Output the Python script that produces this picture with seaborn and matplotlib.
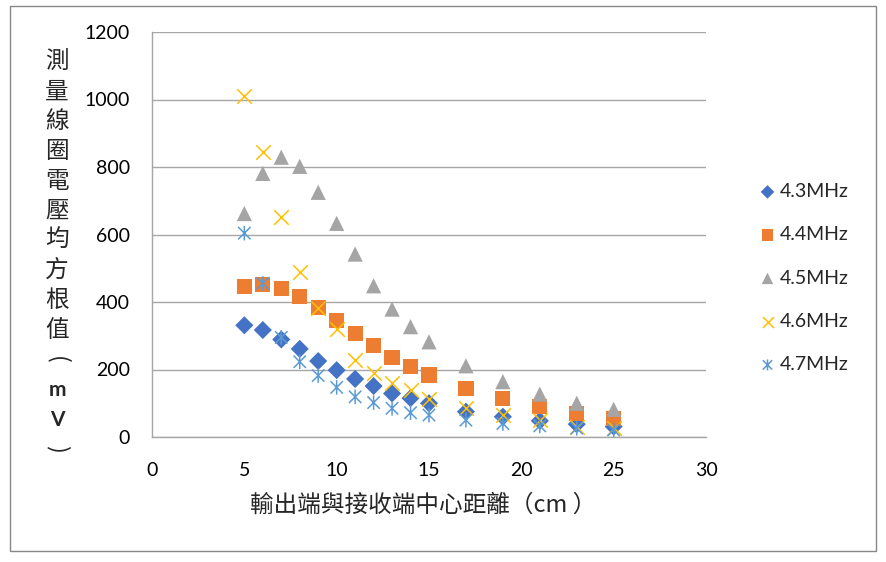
import matplotlib
matplotlib.use("Agg")
import matplotlib.pyplot as plt
from matplotlib.path import Path
from matplotlib.patches import Rectangle
import seaborn as sns
import pandas as pd

distance = [5, 6, 7, 8, 9, 10, 11, 12, 13, 14, 15, 17, 19, 21, 23, 25]
v43 = [331, 317, 289, 261, 225, 198, 172, 151, 129, 115, 100, 75, 60, 48, 38, 31]
v44 = [445, 452, 440, 416, 383, 345, 306, 271, 235, 208, 184, 143, 114, 90, 69, 55]
v45 = [662, 781, 829, 802, 725, 633, 542, 448, 379, 327, 282, 211, 164, 127, 100, 82]
v46 = [1010, 843, 651, 488, 383, 320, 228, 191, 159, 139, 112, 85, 64, 50, 31, 27]
v47 = [604, 455, 295, 223, 182, 147, 119, 102, 85, 72, 65, 50, 40, 33, 26, 21]
series_names = ["4.3MHz", "4.4MHz", "4.5MHz", "4.6MHz", "4.7MHz"]
series_values = [v43, v44, v45, v46, v47]
x_ticks = [0, 5, 10, 15, 20, 25, 30]
y_ticks = [0, 200, 400, 600, 800, 1000, 1200]
x_label = "輸出端與接收端中心距離（cm ）"
y_label_chars = ["測", "量", "線", "圈", "電", "壓", "均", "方", "根", "值", "(", "m", "V", ")"]

colors = ["#4472C4", "#ED7D31", "#A5A5A5", "#FFC000", "#5B9BD5"]

star = Path([(0, -1), (0, 1), (-0.85, -0.85), (0.85, 0.85), (-0.85, 0.85), (0.85, -0.85)],
            [Path.MOVETO, Path.LINETO, Path.MOVETO, Path.LINETO, Path.MOVETO, Path.LINETO])

marker_specs = [
    dict(marker="D", s=85, color=colors[0], edgecolor="none"),
    dict(marker="s", s=120, color=colors[1], edgecolor="none"),
    dict(marker="^", s=120, color=colors[2], edgecolor="none"),
    dict(marker="x", s=110, color=colors[3], linewidth=1.1),
    dict(marker=star, s=110, color=colors[4], edgecolor=colors[4], facecolor="none", linewidth=1.1),
]

rows = []
for name, vals in zip(series_names, series_values):
    for d, v in zip(distance, vals):
        rows.append({"distance": d, "value": v, "series": name})
df = pd.DataFrame(rows)

sns.set_theme(style="white")
plt.rcParams["font.family"] = ["Lato", "Noto Sans CJK TC", "DejaVu Sans"]

fig = plt.figure(figsize=(8.86, 5.62), dpi=100)
ax = fig.add_axes([152 / 886, 1 - 437 / 562, (706 - 152) / 886, (437 - 32) / 562])

for name, spec in zip(series_names, marker_specs):
    sub = df[df["series"] == name]
    sns.scatterplot(data=sub, x="distance", y="value", ax=ax, label=name, zorder=3, **spec)

ax.set_xlim(0, 30)
ax.set_ylim(0, 1200)
ax.set_xticks(x_ticks)
ax.set_yticks(y_ticks)
ax.set_xlabel("")
ax.set_ylabel("")
ax.grid(axis="y", color="#A6A6A6", linewidth=1.0)
ax.grid(axis="x", visible=False)
for side in ["top", "right"]:
    ax.spines[side].set_visible(False)
for side in ["left", "bottom"]:
    ax.spines[side].set_visible(True)
    ax.spines[side].set_color("#A6A6A6")
    ax.spines[side].set_linewidth(1.0)
ax.tick_params(axis="both", which="major", direction="out", length=6, width=1,
               color="#A6A6A6", labelsize=14, labelcolor="#000000")
ax.tick_params(axis="y", pad=10)
ax.tick_params(axis="x", pad=12)

# vertical stacked y-axis title
for i, ch in enumerate(y_label_chars):
    ypix = 62 + i * 29.8
    if ch in "()":
        fig.text(57 / 886, 1 - ypix / 562, ch, ha="center", va="center", fontsize=17,
                 rotation=-90, family=["Noto Sans CJK TC", "DejaVu Sans"])
    elif ch in "mV":
        fig.text(57 / 886, 1 - ypix / 562, ch, ha="center", va="center", fontsize=15,
                 fontweight="bold", family=["Lato", "DejaVu Sans"])
    else:
        fig.text(57 / 886, 1 - ypix / 562, ch, ha="center", va="center", fontsize=17,
                 family=["Noto Sans CJK TC", "DejaVu Sans"])

fig.text(423 / 886, 1 - 505 / 562, x_label, ha="center", va="center",
         fontsize=17, family=["Noto Sans CJK TC", "DejaVu Sans"])

leg = ax.legend(loc="center left", bbox_to_anchor=(750 / 886, 1 - 278 / 562),
                bbox_transform=fig.transFigure, frameon=False, fontsize=14,
                labelspacing=1.35, handletextpad=0.15, handlelength=1.0,
                borderaxespad=0, markerscale=0.75)

fig.patches.append(Rectangle((10 / 886, 1 - 551 / 562), 866 / 886, 545 / 562,
                             transform=fig.transFigure, fill=False,
                             edgecolor="#878787", linewidth=1.0, zorder=0))

fig.savefig("out.png", dpi=100, facecolor="white")
